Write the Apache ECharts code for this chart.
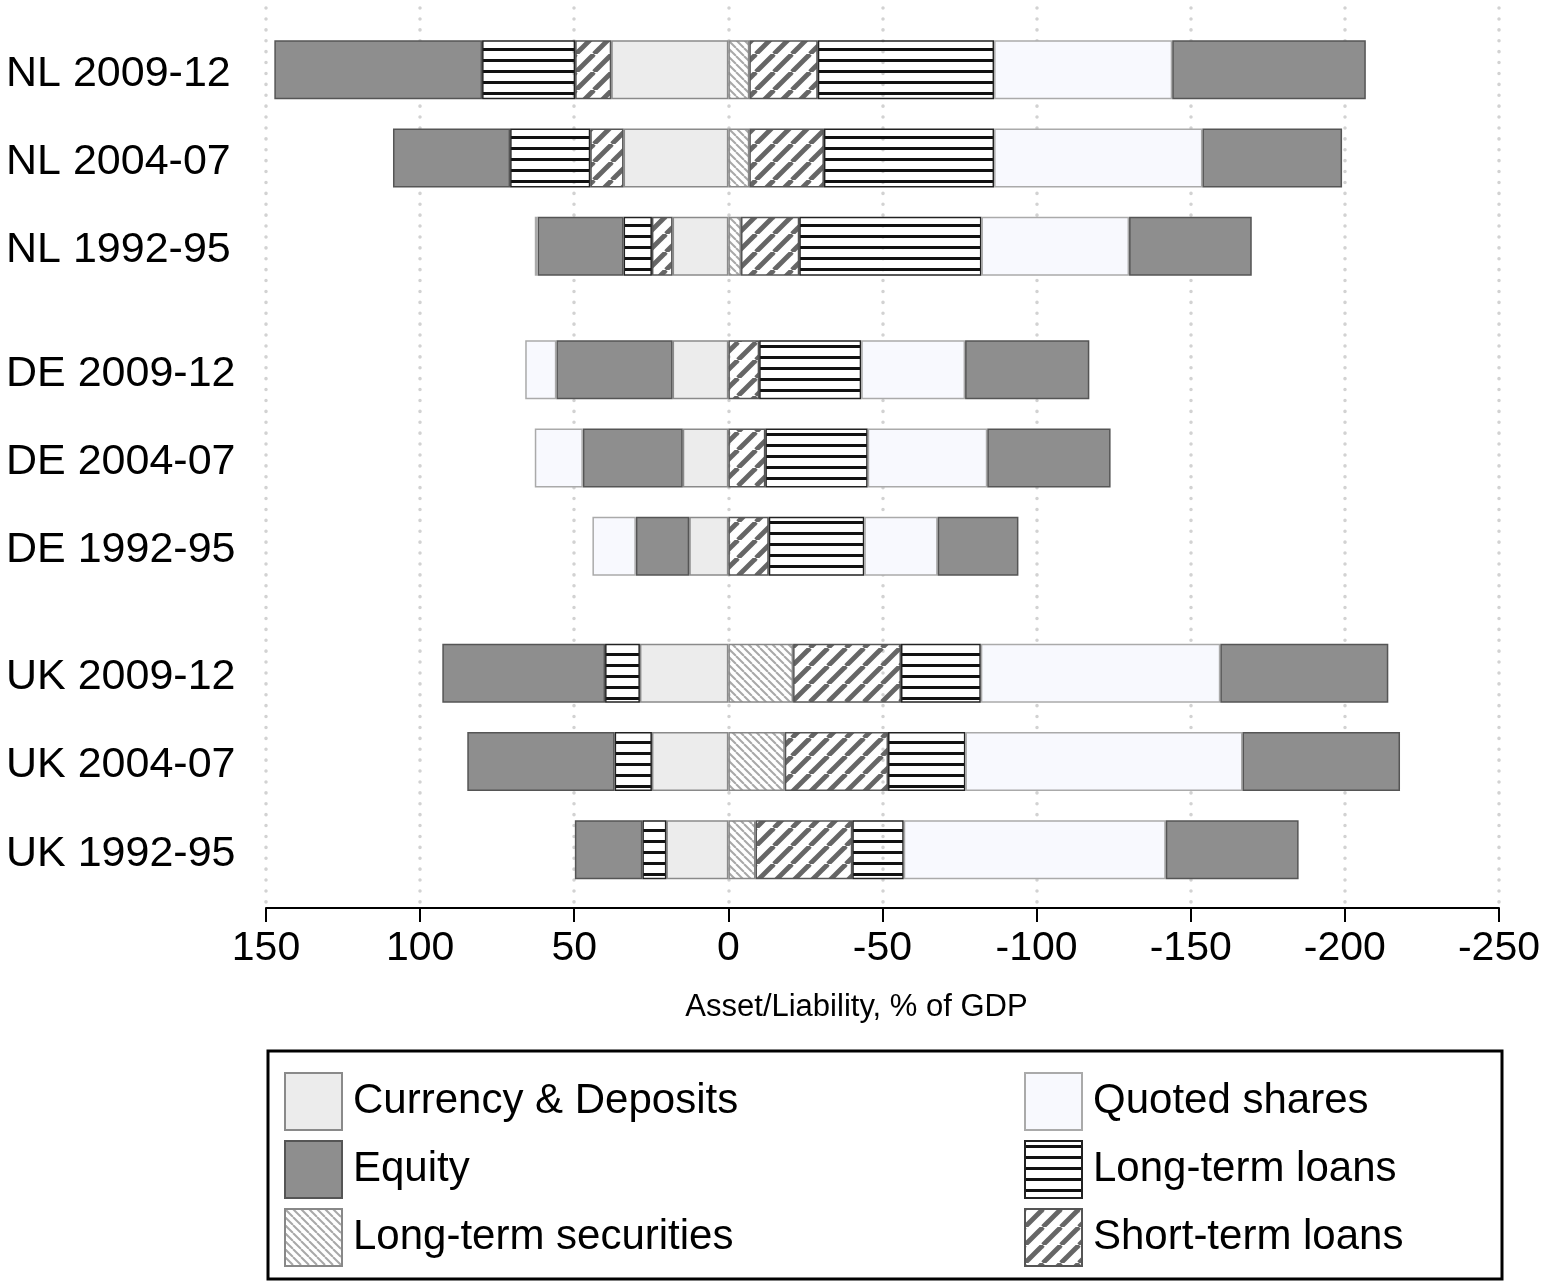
<!DOCTYPE html>
<html>
<head>
<meta charset="utf-8">
<script src="https://cdn.jsdelivr.net/npm/echarts@6/dist/echarts.min.js"></script>
<style>
html,body{margin:0;padding:0;background:#fff;}
#chart{width:1543px;height:1282px;}
</style>
</head>
<body>
<div id="chart"></div>
<script>
// ---- Data (share of GDP, %) ----
const rowLabels = ['NL 2009-12','NL 2004-07','NL 1992-95','DE 2009-12','DE 2004-07','DE 1992-95','UK 2009-12','UK 2004-07','UK 1992-95'];
const xTicks = [150, 100, 50, 0, -50, -100, -150, -200, -250];

// Assets (drawn to the left, positive)
const currencyAssets   = [38.0, 34.0, 18.1, 18.1, 14.8, 12.7, 28.7, 24.8, 20.1];
const stLoansAssets    = [11.7, 10.8,  6.7,  0,    0,    0,    0,    0,    0  ];
const ltLoansAssets    = [30.2, 26.0,  9.2,  0,    0,    0,   11.3, 12.1,  7.8];
const equityAssets     = [67.4, 38.0, 27.9, 37.7, 32.4, 17.3, 52.8, 47.8, 21.9];
const quotedAssets     = [ 0,    0,    0.9, 10.1, 15.6, 14.1,  0,    0,    0  ];

// Liabilities (drawn to the right, negative)
const ltSecLiab        = [ 6.8,  6.8,  4.1,  0,    0,    0,   21.0, 18.3,  8.8];
const stLoansLiab      = [22.2, 24.2, 18.9, 10.0, 12.0, 13.1, 35.0, 33.5, 31.4];
const ltLoansLiab      = [57.2, 55.2, 59.1, 33.1, 33.2, 31.0, 25.9, 25.1, 16.7];
const quotedLiab       = [57.8, 67.6, 47.9, 33.7, 38.8, 23.8, 77.7, 89.9, 85.0];
const equityLiab       = [62.8, 45.3, 39.8, 40.3, 40.0, 26.2, 54.5, 51.1, 43.1];

// ---- Layout: fine category slots so groups get a wider gap ----
const LEAD = 17, ROW_STEP = 25, GROUP_GAPS = [35, 36], TOTAL_SLOTS = 255;
const rowSlots = [];
(function(){
  let s = LEAD;
  for (let i = 0; i < rowLabels.length; i++) {
    if (i > 0) s += (i % 3 === 0) ? GROUP_GAPS[i / 3 - 1] : ROW_STEP;
    rowSlots.push(s);
  }
})();
const slotNames = [];
const slotLabel = {};
for (let k = 0; k < TOTAL_SLOTS; k++) slotNames.push(String(k));
rowSlots.forEach((s, i) => { slotLabel[s] = rowLabels[i]; });

function toSlots(values, sign) {
  const arr = new Array(TOTAL_SLOTS).fill(null);
  rowSlots.forEach((s, i) => { arr[s] = values[i] ? sign * values[i] : null; });
  return arr;
}

// ---- Patterns ----
function makePattern(w, h, draw) {
  const c = document.createElement('canvas');
  c.width = w; c.height = h;
  const ctx = c.getContext('2d');
  draw(ctx, w, h);
  return { image: c, repeat: 'repeat' };
}
const hLines = makePattern(8, 11, (ctx, w) => {
  ctx.fillStyle = '#111';
  ctx.fillRect(0, 4, w, 3);
});
const slashHatch = makePattern(18, 18, (ctx, w, h) => {
  ctx.strokeStyle = '#666666';
  ctx.lineWidth = 4.8;
  for (let k = -1; k <= 1; k++) {
    ctx.beginPath();
    ctx.moveTo(k * w, h);
    ctx.lineTo(k * w + w, 0);
    ctx.stroke();
  }
});
const backHatch = makePattern(8, 8, (ctx, w, h) => {
  ctx.strokeStyle = '#a8a8a8';
  ctx.lineWidth = 2;
  for (let k = -1; k <= 1; k++) {
    ctx.beginPath();
    ctx.moveTo(k * w, 0);
    ctx.lineTo(k * w + w, h);
    ctx.stroke();
  }
});

const FONT = 'Liberation Sans, Arial, sans-serif';
const styles = {
  'Currency & Deposits': { color: '#ececec', borderColor: '#8a8a8a' },
  'Equity': { color: '#8e8e8e', borderColor: '#555555' },
  'Long-term securities': { color: backHatch, borderColor: '#888888' },
  'Quoted shares': { color: '#f8f9fe', borderColor: '#aaaaaa' },
  'Long-term loans': { color: hLines, borderColor: '#222222' },
  'Short-term loans': { color: slashHatch, borderColor: '#555555' }
};

function bar(name, values, sign) {
  return {
    name: name,
    type: 'bar',
    stack: 'total',
    barWidth: 59,
    data: toSlots(values, sign),
    itemStyle: Object.assign({ borderWidth: 1.5 }, styles[name]),
    emphasis: { disabled: true }
  };
}

const series = [
  bar('Currency & Deposits', currencyAssets, 1),
  bar('Long-term securities', ltSecLiab, -1),
  bar('Short-term loans', stLoansAssets, 1),
  bar('Short-term loans', stLoansLiab, -1),
  bar('Long-term loans', ltLoansAssets, 1),
  bar('Long-term loans', ltLoansLiab, -1),
  bar('Equity', equityAssets, 1),
  bar('Quoted shares', quotedLiab, -1),
  bar('Quoted shares', quotedAssets, 1),
  bar('Equity', equityLiab, -1)
];

const legendCommon = {
  orient: 'vertical',
  top: 1072,
  padding: 0,
  itemWidth: 57,
  itemHeight: 57,
  itemGap: 9,
  icon: 'rect',
  selectedMode: false,
  textStyle: { fontSize: 42, fontFamily: FONT, color: '#000', padding: [0, 0, 0, 6] }
};

const chart = echarts.init(document.getElementById('chart'));
chart.setOption({
  animation: false,
  backgroundColor: '#fff',
  textStyle: { fontFamily: FONT },
  grid: { left: 266, right: 41, top: 8, bottom: 374, containLabel: false },
  xAxis: {
    type: 'value',
    inverse: true,
    min: xTicks[xTicks.length - 1],
    max: xTicks[0],
    interval: 50,
    name: 'Asset/Liability, % of GDP',
    nameLocation: 'middle',
    nameGap: 84,
    nameTextStyle: { fontSize: 31, color: '#000', fontFamily: FONT, padding: [0, 52, 0, 0] },
    axisLine: { show: true, lineStyle: { color: '#000', width: 2 } },
    axisTick: { show: true, length: 14, lineStyle: { color: '#000', width: 2 } },
    axisLabel: { fontSize: 41, color: '#000', fontFamily: FONT, margin: 20 },
    splitLine: { show: true, lineStyle: { color: '#d2d2d2', width: 3.5, type: [0.1, 10.8], cap: 'round' } }
  },
  yAxis: {
    type: 'category',
    inverse: true,
    data: slotNames,
    axisLine: { show: false },
    axisTick: { show: false },
    splitLine: { show: false },
    axisLabel: {
      interval: 0,
      align: 'left',
      margin: 260,
      color: '#000',
      fontFamily: FONT,
      fontSize: 43,
      formatter: (v) => slotLabel[v] ? '{r|' + slotLabel[v] + '}' : '',
      rich: {
        r: { fontSize: 43, fontFamily: FONT, color: '#000', padding: [8, 0, 0, 0] }
      }
    }
  },
  legend: [
    Object.assign({ left: 284, data: ['Currency & Deposits', 'Equity', 'Long-term securities'] }, legendCommon),
    Object.assign({ left: 1024, data: ['Quoted shares', 'Long-term loans', 'Short-term loans'] }, legendCommon)
  ],
  graphic: [{
    type: 'rect',
    shape: { x: 268, y: 1051, width: 1234, height: 228 },
    style: { fill: 'none', stroke: '#000', lineWidth: 3 },
    z: -1
  }],
  series: series
});
</script>
</body>
</html>
